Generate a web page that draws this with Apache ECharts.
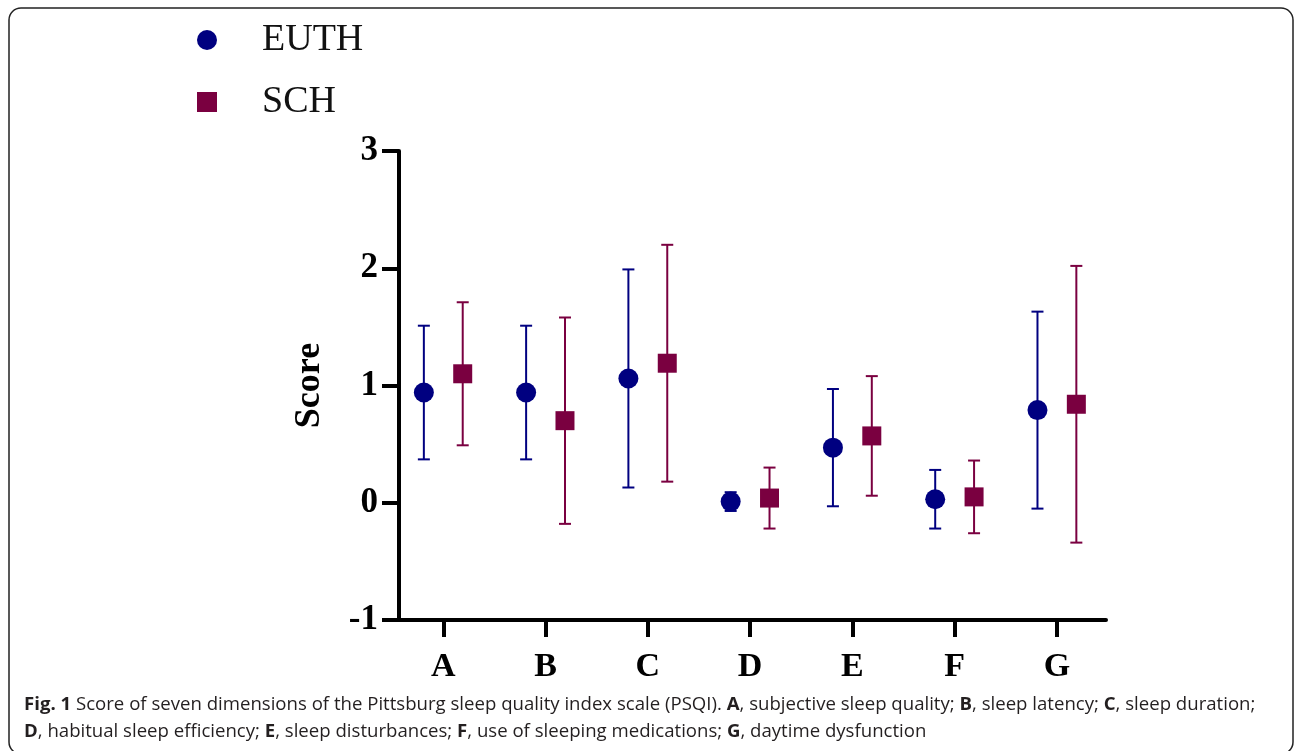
<!DOCTYPE html>
<html>
<head>
<meta charset="utf-8">
<title>PSQI scores</title>
<script src="https://cdn.jsdelivr.net/npm/echarts@6/dist/echarts.min.js"></script>
<style>
    html, body { margin: 0; padding: 0; background: #fff; }
    #main { width: 1295px; height: 751px; }
</style>
</head>
<body>
<div id="main"></div>
<script>
// 数据：七个维度
var categories = ['A', 'B', 'C', 'D', 'E', 'F', 'G'];
var euthMean = [0.94, 0.94, 1.06, 0.01, 0.47, 0.03, 0.79];
var euthSD = [0.57, 0.57, 0.93, 0.08, 0.50, 0.25, 0.84];
var schMean = [1.10, 0.70, 1.19, 0.04, 0.57, 0.05, 0.84];
var schSD = [0.61, 0.88, 1.01, 0.26, 0.51, 0.31, 1.18];
var yTicks = [-1, 0, 1, 2, 3];

var EUTH_COLOR = '#000080';
var SCH_COLOR = '#7a0040';
var SHIFT = 0.19;   // 组内左右偏移

function points(mean, dx) {
    return mean.map(function (v, i) { return [i + 1 + dx, v]; });
}
function bars(mean, sd, dx) {
    return mean.map(function (v, i) { return [i + 1 + dx, v - sd[i], v + sd[i]]; });
}

//误差线
function errorBar(color) {
    return function (params, api) {
        var lo = api.coord([api.value(0), api.value(1)]);
        var hi = api.coord([api.value(0), api.value(2)]);
        var half = 6;
        var st = {stroke: color, lineWidth: 2};
        return {
            type: 'group',
            children: [
                {type: 'line', shape: {x1: lo[0], y1: lo[1], x2: hi[0], y2: hi[1]}, style: st},
                {type: 'line', shape: {x1: lo[0] - half, y1: lo[1], x2: lo[0] + half, y2: lo[1]}, style: st},
                {type: 'line', shape: {x1: hi[0] - half, y1: hi[1], x2: hi[0] + half, y2: hi[1]}, style: st}
            ]
        };
    };
}

var serif = 'Liberation Serif';

var option = {
    animation: false,
    backgroundColor: '#fff',
    legend: {
        orient: 'vertical',
        left: 192,
        top: 16,
        itemWidth: 20,
        itemHeight: 20,
        itemGap: 24,
        data: [{name: 'EUTH', icon: 'circle'}, {name: 'SCH', icon: 'rect'}],
        textStyle: {fontFamily: serif, fontSize: 38, color: '#111', padding: [0, 0, 0, 40]}
    },
    grid: {left: 399, right: 189, top: 151, bottom: 131},
    xAxis: {
        type: 'value',
        min: 0.567,
        max: 7.48,
        splitLine: {show: false},
        axisLine: {show: true, onZero: false, lineStyle: {color: '#000', width: 4}},
        axisTick: {show: true, length: 17, lineStyle: {color: '#000', width: 4}, customValues: [1, 2, 3, 4, 5, 6, 7]},
        axisLabel: {
            customValues: [1, 2, 3, 4, 5, 6, 7],
            margin: 30,
            fontFamily: serif, fontWeight: 'bold', fontSize: 34, color: '#000',
            formatter: function (v) { return categories[Math.round(v) - 1] || ''; }
        }
    },
    yAxis: {
        type: 'value',
        min: yTicks[0],
        max: yTicks[yTicks.length - 1],
        interval: 1,
        name: 'Score',
        nameLocation: 'middle',
        nameGap: 71,
        nameTextStyle: {fontFamily: serif, fontWeight: 'bold', fontSize: 36, color: '#000'},
        splitLine: {show: false},
        axisLine: {show: true, lineStyle: {color: '#000', width: 4}},
        axisTick: {show: true, length: 17, lineStyle: {color: '#000', width: 4}},
        axisLabel: {margin: 21, fontFamily: serif, fontWeight: 'bold', fontSize: 35, color: '#000'}
    },
    series: [
        {
            name: 'EUTH',
            type: 'scatter',
            symbol: 'circle',
            symbolSize: 20,
            z: 3,
            itemStyle: {color: EUTH_COLOR, opacity: 1},
            data: points(euthMean, -SHIFT)
        },
        {
            name: 'SCH',
            type: 'scatter',
            symbol: 'rect',
            symbolSize: 19,
            z: 3,
            itemStyle: {color: SCH_COLOR, opacity: 1},
            data: points(schMean, SHIFT)
        },
        {
            name: 'EUTH SD',
            type: 'custom',
            z: 2,
            renderItem: errorBar(EUTH_COLOR),
            encode: {x: 0, y: [1, 2]},
            data: bars(euthMean, euthSD, -SHIFT)
        },
        {
            name: 'SCH SD',
            type: 'custom',
            z: 2,
            renderItem: errorBar(SCH_COLOR),
            encode: {x: 0, y: [1, 2]},
            data: bars(schMean, schSD, SHIFT)
        }
    ],
    graphic: [
        {
            type: 'rect',
            shape: {x: 9, y: 8, width: 1284, height: 746, r: 12},
            style: {fill: 'none', stroke: '#222', lineWidth: 1.5},
            silent: true
        },
        {
            type: 'text',
            left: 24,
            top: 691,
            style: {
                text: '{b|Fig. 1} Score of seven dimensions of the Pittsburg sleep quality index scale (PSQI). {b|A}, subjective sleep quality; {b|B}, sleep latency; {b|C}, sleep duration;\n' +
                    '{b|D}, habitual sleep efficiency; {b|E}, sleep disturbances; {b|F}, use of sleeping medications; {b|G}, daytime dysfunction',
                fontFamily: 'Open Sans',
                fontSize: 18.6,
                lineHeight: 27,
                fill: '#231f20',
                rich: {
                    b: {fontFamily: 'Open Sans', fontWeight: 'bold', fontSize: 18.6, lineHeight: 27, fill: '#231f20'}
                }
            }
        }
    ]
};

var myChart = echarts.init(document.getElementById('main'));
myChart.setOption(option);
</script>
</body>
</html>
